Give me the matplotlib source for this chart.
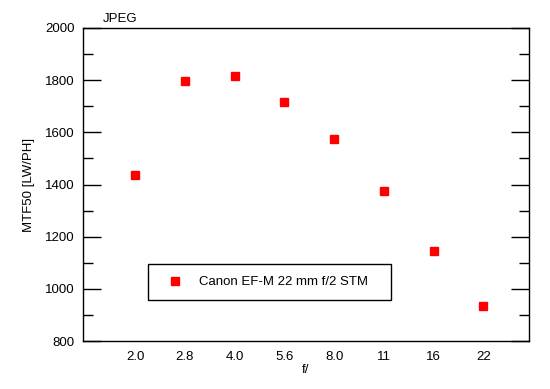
import matplotlib
matplotlib.use("Agg")
import matplotlib.pyplot as plt
from matplotlib.ticker import MultipleLocator

plt.rcParams['font.family'] = ['Liberation Sans', 'DejaVu Sans']

apertures = ["2.0", "2.8", "4.0", "5.6", "8.0", "11", "16", "22"]
mtf50 = [1436, 1797, 1816, 1716, 1574, 1375, 1145, 934]
lens = "Canon EF-M 22 mm f/2 STM"

fig = plt.figure(figsize=(5.5, 3.89), dpi=100)
ax = fig.add_axes([83/550, 1 - 341/389, (529-83)/550, (341-28)/389])

xs = list(range(len(apertures)))
ax.plot(xs, mtf50, linestyle="none", marker="s", markersize=5.2,
        color="#ff0000", label=lens)

ax.set_xlim(-1.05, 7.92)
ax.set_ylim(800, 2000)
ax.set_xticks(xs)
ax.set_xticklabels(apertures)
ax.tick_params(axis="x", length=0, pad=7, labelsize=9.5)
ax.yaxis.set_major_locator(MultipleLocator(200))
ax.yaxis.set_minor_locator(MultipleLocator(100))
ax.tick_params(axis="y", which="major", direction="in", length=13, width=1,
               right=True, labelsize=9.5, pad=6)
ax.tick_params(axis="y", which="minor", direction="in", length=7, width=1,
               right=True)
for s in ax.spines.values():
    s.set_linewidth(1)

ax.set_xlabel("f/", fontsize=9.5, labelpad=1)
ax.set_ylabel("MTF50 [LW/PH]", fontsize=9.5, labelpad=7)
ax.text(20/446, 1.01, "JPEG", transform=ax.transAxes, fontsize=9.5,
        ha="left", va="bottom")

leg = ax.legend(loc="lower left", bbox_to_anchor=((148-83)/446, (341-300)/313,
                (391-148)/446, (300-265)/313), mode="expand", borderaxespad=0,
                fancybox=False, edgecolor="black", framealpha=1,
                fontsize=9.5, handlelength=2.27, handletextpad=0.7,
                borderpad=0.9)
leg.get_frame().set_linewidth(1)

fig.savefig("out.png", dpi=100)
